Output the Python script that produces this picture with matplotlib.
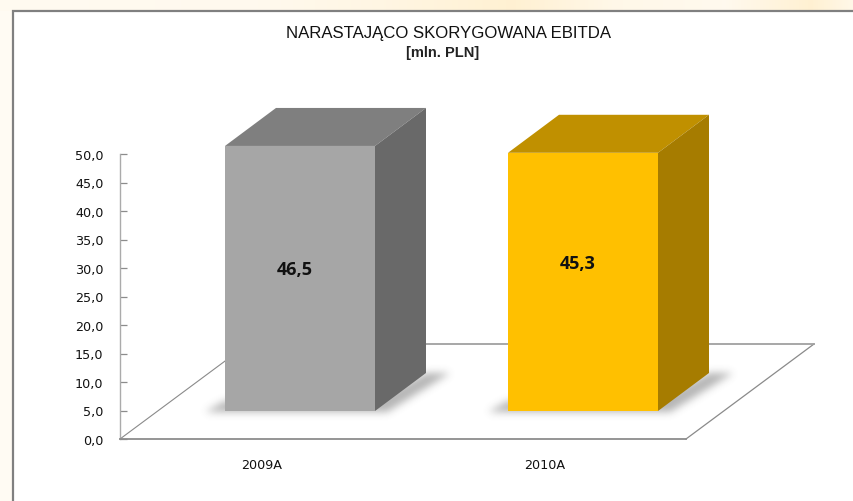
import numpy as np
import matplotlib
matplotlib.use("Agg")
import matplotlib.pyplot as plt
from matplotlib.patches import Polygon, Rectangle
from matplotlib.path import Path

W, H = 854, 502

categories = ["2009A", "2010A"]
values = [46.5, 45.3]
value_labels = ["46,5", "45,3"]
y_ticks = [0, 5, 10, 15, 20, 25, 30, 35, 40, 45, 50]
y_tick_labels = ["0,0", "5,0", "10,0", "15,0", "20,0", "25,0", "30,0", "35,0", "40,0", "45,0", "50,0"]

FRONT = ["#A6A6A6", "#FFC000"]
TOP = ["#7F7F7F", "#C09000"]
SIDE = ["#696969", "#A67C00"]

# px layout of the fake 3d box
AX_L, AX_R, AX_T, AX_B = 120, 686, 155, 440
PX_X = (AX_R - AX_L) / 2
PX_Y = (AX_B - AX_T) / 50
BAR_W = 150 / PX_X
FLOOR_DX, FLOOR_DY = 128 / PX_X, 95 / PX_Y
BAR_OFF_X, BAR_OFF_Y = 38.5 / PX_X, 28 / PX_Y
DEPTH_X, DEPTH_Y = 51 / PX_X, 38 / PX_Y
LABEL_LIFT = [9 / PX_Y, 19 / PX_Y]


def draw_background(fig):
    bg = fig.add_axes([0, 0, 1, 1], zorder=0)
    xs = np.linspace(0, 1, W)
    tint = np.interp(xs, [0, 0.3, 0.45, 0.6, 0.72, 0.85, 0.95, 1.0],
                     [0.25, 0.3, 0.5, 0.8, 0.4, 0.3, 0.8, 0.4])
    img = np.ones((12, W, 3))
    img[:, :, 1] = 1 - 0.07 * tint
    img[:, :, 2] = 1 - 0.22 * tint
    bg.imshow(img, extent=(0, W, 12, 0), aspect="auto")
    bg.add_patch(Rectangle((0, 12), 13, H, color="#FFFBF3", lw=0))
    bg.add_patch(Rectangle((13, 11.5), W, H, facecolor="white", edgecolor="#808080", lw=1.6))
    bg.set_xlim(0, W)
    bg.set_ylim(H, 0)
    bg.axis("off")


def blur(a, sigma):
    r = int(3 * sigma)
    kernel = np.exp(-0.5 * (np.arange(-r, r + 1) / sigma) ** 2)
    kernel /= kernel.sum()
    a = np.apply_along_axis(lambda v: np.convolve(v, kernel, mode="same"), 0, a)
    a = np.apply_along_axis(lambda v: np.convolve(v, kernel, mode="same"), 1, a)
    return a


def draw_shadows(fig, ax):
    # blurred floor shadow for each bar, worked out from the bar corners in px
    xx, yy = np.meshgrid(np.arange(W) + 0.5, np.arange(H) + 0.5)
    grid = np.column_stack([xx.ravel(), yy.ravel()])
    alpha = np.zeros((H, W))
    for i in range(len(values)):
        x0 = i - BAR_W / 2 + BAR_OFF_X
        base = ax.transData.transform([(x0, BAR_OFF_Y), (x0 + BAR_W, BAR_OFF_Y),
                                       (x0 + BAR_W + DEPTH_X, BAR_OFF_Y + DEPTH_Y)])
        base[:, 1] = H - base[:, 1]
        (lx, by), (rx, _), (bx, ty) = base
        poly = [(lx - 20, by + 1), (lx, by - 10), (rx, by - 10), (bx, ty), (bx + 24, ty),
                (rx + 12, by + 1)]
        alpha += Path(poly).contains_points(grid).reshape(H, W).astype(float)
    alpha = blur(alpha, 4.0) * 0.42
    img = np.zeros((H, W, 4))
    img[:, :, :3] = 0.3
    img[:, :, 3] = alpha
    sh = fig.add_axes([0, 0, 1, 1], zorder=0.5)
    sh.imshow(img, extent=(0, W, H, 0), aspect="auto", interpolation="nearest")
    sh.axis("off")


def draw_bar(ax, i):
    x0 = i - BAR_W / 2 + BAR_OFF_X
    x1 = x0 + BAR_W
    y0 = BAR_OFF_Y
    y1 = y0 + values[i]

    ax.add_patch(Rectangle((x0, y0), BAR_W, values[i], facecolor=FRONT[i], lw=0, zorder=4, clip_on=False))
    ax.add_patch(Polygon([(x0, y1), (x1, y1), (x1 + DEPTH_X, y1 + DEPTH_Y), (x0 + DEPTH_X, y1 + DEPTH_Y)],
                         closed=True, facecolor=TOP[i], lw=0, zorder=4, clip_on=False))
    ax.add_patch(Polygon([(x1, y0), (x1 + DEPTH_X, y0 + DEPTH_Y), (x1 + DEPTH_X, y1 + DEPTH_Y), (x1, y1)],
                         closed=True, facecolor=SIDE[i], lw=0, zorder=4, clip_on=False))
    ax.text((x0 + x1) / 2 - 5 / PX_X, y0 + values[i] / 2 + LABEL_LIFT[i], value_labels[i],
            ha="center", va="center", fontsize=13, fontweight="bold", color="#111111",
            family="Open Sans", zorder=5)


fig = plt.figure(figsize=(W / 100, H / 100), dpi=100)
draw_background(fig)

ax = fig.add_axes([AX_L / W, 1 - AX_B / H, (AX_R - AX_L) / W, (AX_B - AX_T) / H], zorder=1)
ax.patch.set_alpha(0)
ax.set_xlim(-0.5, 1.5)
ax.set_ylim(0, 50)
for s in ["top", "right"]:
    ax.spines[s].set_visible(False)
ax.spines["left"].set_color("#ABABAB")
ax.spines["left"].set_linewidth(1.0)
ax.spines["bottom"].set_color("#8C8C8C")
ax.spines["bottom"].set_linewidth(1.3)

ax.set_xticks(range(len(categories)))
ax.set_xticklabels(categories, fontsize=9.2, family="DejaVu Sans", color="#111111")
ax.tick_params(axis="x", length=0, pad=14)
ax.set_yticks(y_ticks)
ax.set_yticklabels(y_tick_labels, fontsize=9.2, family="DejaVu Sans", color="#111111")
ax.tick_params(axis="y", direction="in", length=5, width=0.9, color="#8C8C8C", pad=12)

draw_shadows(fig, ax)

# floor outline
x_l, x_r = ax.get_xlim()
ax.plot([x_l, x_l + FLOOR_DX], [0, FLOOR_DY], color="#8A8A8A", lw=0.8, clip_on=False, zorder=1)
ax.plot([x_r, x_r + FLOOR_DX], [0, FLOOR_DY], color="#8A8A8A", lw=0.9, clip_on=False, zorder=1)
ax.plot([x_l + FLOOR_DX, x_r + FLOOR_DX], [FLOOR_DY, FLOOR_DY], color="#A0A0A0", lw=1.3, clip_on=False, zorder=1)

for i in range(len(values)):
    draw_bar(ax, i)

fig.text(449 / W, 1 - 34 / H, "NARASTAJĄCO SKORYGOWANA EBITDA", ha="center", va="center",
         fontsize=12.1, family="Liberation Sans", color="#111111")
fig.text(443 / W, 1 - 53 / H, "[mln. PLN]", ha="center", va="center", fontsize=10.5,
         fontweight="bold", family="Liberation Sans", color="#222222")

fig.savefig("out.png", dpi=100)
